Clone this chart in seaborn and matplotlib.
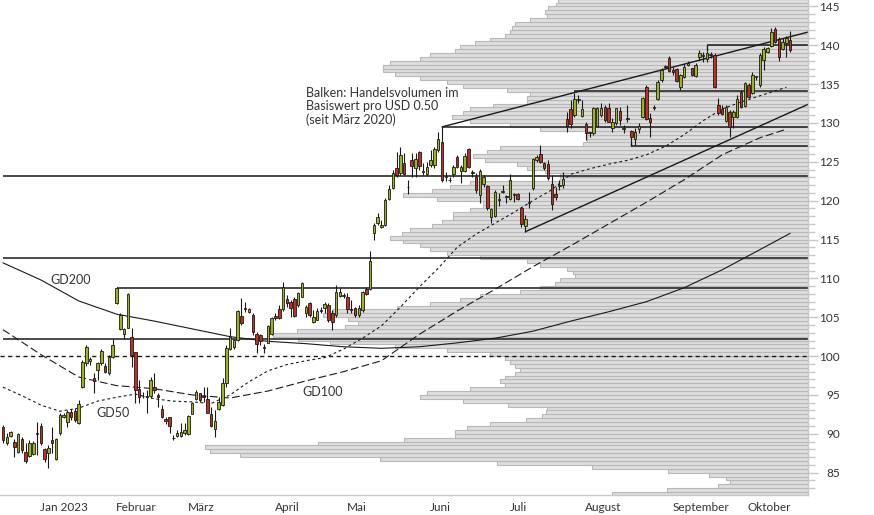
import numpy as np
import pandas as pd
import matplotlib
matplotlib.use("Agg")
import matplotlib.pyplot as plt
import matplotlib.transforms as mtransforms
import seaborn as sns

# ---- daily candles (trading day index 0..208, Dec 2022 - Oct 2023) ----
opens = [90.9, 88.8, 89.7, 89.0, 87.7, 89.3, 87.7, 87.1, 87.4, 90.0,
         91.0, 88.0, 87.5, 89.2, 86.8, 90.1, 92.2, 91.5, 92.8, 92.9,
         91.4, 96.0, 99.1, 99.4, 97.2, 98.2, 99.1, 98.7, 97.8, 99.9,
         106.8, 103.5, 102.8, 103.6, 102.5, 100.5, 95.7, 94.9, 94.7, 94.8,
         96.0, 95.0, 93.2, 91.9, 92.2, 89.5, 89.7, 89.7, 90.1, 90.0,
         92.6, 94.5, 95.3, 94.8, 94.5, 92.6, 90.6, 93.2, 93.7, 96.5,
         100.9, 101.2, 102.1, 105.2, 106.2, 105.7, 105.3, 102.9, 102.7, 101.2,
         101.7, 102.9, 105.2, 106.0, 106.0, 107.3, 106.9, 107.3, 106.6, 107.6,
         105.5, 106.8, 104.4, 104.7, 105.8, 106.2, 106.6, 105.5, 105.3, 107.7,
         107.7, 107.6, 106.0, 106.2, 105.3, 105.9, 108.6, 108.6, 115.8, 117.1,
         116.6, 116.9, 120.2, 121.6, 124.2, 123.6, 124.9, 121.8, 125.2, 124.2,
         126.3, 123.7, 123.4, 124.6, 124.6, 126.5, 127.5, 123.1, 122.7, 123.4,
         125.6, 123.8, 123.8, 126.6, 123.7, 123.1, 120.7, 122.2, 121.9, 117.9,
         118.0, 120.1, 121.1, 120.5, 120.2, 120.7, 120.9, 119.1, 116.7, 119.7,
         121.6, 125.2, 126.0, 124.9, 124.7, 122.2, 120.9, 121.9, 122.0, 130.5,
         131.8, 131.0, 133.0, 130.9, 129.9, 128.8, 128.7, 129.6, 131.0, 132.1,
         131.9, 129.4, 130.0, 131.5, 129.2, 130.5, 129.0, 128.0, 129.2, 130.8,
         134.6, 130.6, 131.9, 133.1, 135.5, 137.2, 138.4, 136.8, 137.0, 134.6,
         135.9, 137.5, 137.1, 136.1, 138.5, 138.6, 138.2, 138.7, 138.8, 132.3,
         131.8, 130.3, 131.4, 130.8, 130.8, 134.0, 132.2, 134.9, 133.9, 135.9,
         134.9, 138.1, 139.1, 139.9, 142.1, 140.8, 139.5, 140.3, 140.7]
highs = [91.1, 90.1, 90.4, 89.3, 90.1, 89.6, 88.8, 89.2, 89.1, 91.5,
         91.4, 88.2, 88.6, 90.9, 89.5, 92.7, 92.7, 93.1, 93.2, 93.3,
         94.4, 99.5, 101.4, 99.9, 97.8, 99.2, 100.9, 99.1, 100.1, 102.2,
         108.9, 105.5, 103.6, 108.1, 103.6, 100.5, 96.9, 95.4, 95.6, 97.3,
         97.8, 95.3, 93.7, 92.2, 92.2, 89.8, 90.5, 91.4, 91.4, 92.4,
         94.1, 95.6, 95.3, 96.0, 96.0, 93.4, 93.1, 94.7, 97.2, 101.4,
         103.6, 102.2, 105.9, 107.5, 107.0, 106.2, 105.6, 103.1, 102.8, 101.5,
         104.0, 105.0, 105.6, 106.6, 109.5, 107.9, 107.2, 107.6, 108.2, 109.5,
         106.6, 107.0, 105.9, 106.2, 106.3, 107.0, 106.8, 105.9, 109.2, 108.8,
         108.1, 108.1, 107.2, 106.3, 106.6, 108.4, 108.9, 113.5, 117.1, 118.4,
         117.5, 120.4, 122.0, 124.0, 126.3, 126.9, 126.1, 122.7, 126.1, 126.1,
         126.4, 124.9, 125.0, 126.5, 126.9, 128.8, 129.5, 123.7, 123.0, 124.6,
         125.9, 124.6, 126.1, 126.8, 124.0, 123.6, 124.1, 123.3, 122.0, 119.1,
         121.4, 121.0, 122.0, 120.7, 123.4, 121.0, 121.0, 119.2, 118.2, 121.1,
         125.5, 125.9, 127.2, 125.0, 125.2, 123.3, 121.8, 122.7, 123.7, 131.4,
         133.0, 133.9, 133.6, 133.0, 130.1, 128.8, 132.1, 132.1, 132.6, 132.3,
         132.6, 130.6, 131.9, 132.1, 129.7, 132.3, 129.1, 129.4, 130.0, 133.3,
         134.9, 131.3, 132.3, 135.5, 137.1, 137.5, 138.6, 137.2, 137.1, 136.3,
         137.6, 138.0, 137.1, 137.7, 139.4, 139.1, 139.3, 139.1, 139.0, 133.2,
         132.3, 132.3, 131.7, 131.7, 133.6, 134.2, 135.3, 135.1, 136.6, 135.9,
         139.0, 139.8, 139.8, 142.2, 142.4, 141.1, 140.9, 141.2, 141.8]
lows = [88.8, 88.6, 89.6, 87.0, 87.5, 87.5, 86.2, 87.0, 87.3, 87.3,
        88.6, 86.4, 85.6, 87.5, 86.6, 89.8, 92.0, 90.9, 91.8, 91.5,
        91.3, 95.9, 98.7, 98.9, 95.3, 96.9, 98.8, 97.8, 97.6, 99.8,
        106.7, 103.4, 102.2, 103.6, 98.6, 94.0, 94.0, 94.6, 92.7, 94.6,
        95.3, 93.5, 92.0, 91.3, 90.1, 89.2, 89.6, 89.6, 89.8, 89.8,
        92.6, 94.4, 94.1, 94.1, 92.7, 90.9, 89.6, 93.1, 93.6, 96.0,
        100.8, 100.9, 101.9, 104.0, 105.7, 105.6, 102.7, 100.4, 101.4, 100.4,
        101.7, 102.7, 104.6, 104.8, 105.8, 106.3, 105.0, 105.0, 106.3, 107.6,
        105.0, 105.0, 104.2, 104.6, 105.5, 105.5, 104.4, 103.3, 105.0, 107.6,
        107.5, 105.6, 105.6, 105.0, 105.0, 105.7, 107.9, 108.5, 114.9, 116.9,
        116.5, 116.7, 120.1, 121.5, 123.0, 123.3, 123.3, 120.9, 123.1, 123.1,
        124.0, 123.3, 123.2, 124.3, 124.2, 126.3, 122.4, 122.5, 122.4, 123.1,
        124.2, 122.3, 123.7, 124.2, 123.1, 121.0, 119.7, 121.8, 118.8, 117.1,
        117.9, 119.3, 121.0, 119.7, 120.1, 119.8, 120.1, 116.6, 116.0, 119.1,
        121.4, 125.0, 124.9, 123.9, 122.7, 118.8, 120.1, 121.4, 121.6, 128.8,
        129.4, 130.8, 132.6, 130.8, 127.8, 128.2, 128.5, 129.5, 130.8, 130.1,
        130.1, 128.8, 129.7, 129.7, 128.7, 130.1, 127.1, 127.2, 128.7, 130.6,
        130.4, 128.2, 131.7, 133.0, 135.3, 137.1, 136.6, 136.2, 135.3, 134.2,
        135.8, 137.3, 136.0, 135.9, 138.1, 137.8, 137.8, 138.4, 134.5, 131.0,
        131.0, 130.1, 128.2, 129.4, 130.6, 131.9, 132.1, 133.2, 133.7, 135.5,
        134.6, 136.8, 139.0, 139.8, 140.3, 138.0, 139.4, 138.5, 139.1]
closes = [89.2, 89.6, 90.2, 88.3, 90.0, 87.9, 86.5, 88.8, 88.8, 90.1,
          88.8, 86.8, 88.2, 88.8, 89.3, 92.4, 92.4, 92.8, 92.2, 91.8,
          93.8, 99.2, 101.2, 99.6, 96.8, 99.1, 100.6, 97.9, 99.9, 101.4,
          108.8, 105.3, 103.5, 108.0, 100.1, 95.6, 94.7, 94.8, 94.9, 96.9,
          95.6, 94.7, 92.2, 91.7, 91.0, 89.4, 90.1, 90.2, 90.5, 92.3,
          93.9, 95.4, 94.4, 94.7, 92.7, 91.0, 91.7, 94.1, 96.5, 101.0,
          102.4, 102.1, 105.8, 104.3, 106.1, 106.1, 103.1, 101.6, 101.9, 101.1,
          103.9, 104.9, 104.9, 104.9, 108.9, 106.8, 106.2, 105.2, 108.1, 109.4,
          106.3, 105.3, 105.0, 105.8, 105.9, 106.7, 104.6, 104.4, 108.2, 108.2,
          107.7, 106.1, 105.9, 105.3, 106.2, 108.2, 108.0, 112.2, 116.9, 117.9,
          116.9, 120.1, 121.5, 123.6, 123.3, 125.9, 123.4, 121.7, 124.5, 125.4,
          124.5, 123.7, 124.3, 125.2, 126.6, 127.9, 122.7, 123.2, 122.6, 124.3,
          124.3, 124.3, 125.7, 124.3, 123.6, 121.4, 123.8, 123.1, 119.1, 118.9,
          121.1, 120.1, 121.2, 120.6, 122.7, 120.8, 120.2, 117.0, 117.6, 119.8,
          125.4, 125.6, 125.0, 124.2, 122.9, 119.6, 120.5, 121.9, 122.8, 129.6,
          129.9, 133.1, 133.1, 131.8, 128.7, 128.7, 131.9, 131.9, 131.9, 130.4,
          130.1, 130.1, 131.9, 130.4, 129.2, 130.5, 128.2, 128.9, 129.6, 133.2,
          130.5, 130.1, 131.9, 135.3, 136.8, 137.2, 136.7, 136.6, 135.4, 136.2,
          137.2, 137.7, 136.2, 137.5, 139.0, 138.8, 139.0, 138.8, 134.6, 131.3,
          131.2, 132.1, 129.5, 131.4, 133.1, 132.1, 135.1, 133.4, 136.2, 135.9,
          138.7, 139.5, 139.6, 141.7, 140.4, 138.5, 140.4, 140.9, 139.4]

gd200_idx = [0, 10, 20, 30, 40, 50, 60, 70, 80, 90, 100, 110, 120, 130, 140, 150, 160, 170, 180, 190, 200, 208]
gd200_val = [112.0, 109.8, 107.1, 105.4, 104.5, 103.5, 102.5, 101.9, 101.6, 101.2, 101.0, 101.2, 101.7, 102.3,
             103.2, 104.5, 105.7, 107.0, 108.8, 111.1, 113.7, 115.8]
gd100_idx = [0, 10, 20, 30, 40, 50, 60, 70, 80, 90, 100, 105, 110, 120, 130, 140, 150, 160, 170, 180, 190, 200, 207]
gd100_val = [103.4, 100.2, 97.3, 96.2, 95.8, 95.0, 94.6, 95.5, 96.8, 98.0, 99.4, 101.1, 102.8, 105.8, 108.6,
             111.5, 114.2, 117.0, 119.8, 122.7, 125.9, 128.1, 129.2]
gd50_idx = [0, 5, 10, 15, 20, 25, 30, 35, 40, 45, 50, 55, 60, 65, 70, 75, 80, 85, 90, 95, 100, 105, 110, 115,
            120, 125, 130, 135, 140, 145, 150, 155, 160, 165, 170, 175, 180, 185, 190, 195, 200, 207]
gd50_val = [96.0, 94.9, 93.7, 92.9, 93.3, 94.2, 94.7, 95.1, 94.5, 94.2, 94.1, 93.9, 95.0, 96.7, 98.1, 98.9,
            99.4, 99.8, 100.9, 102.3, 103.9, 106.3, 108.9, 111.3, 114.0, 115.7, 117.1, 118.5, 120.0, 121.4,
            123.4, 124.1, 124.7, 125.2, 125.9, 127.0, 128.5, 130.3, 131.8, 132.7, 133.5, 134.6]

# ---- volume profile: 0.50 USD bins (lower edge), relative volume ----
vol_bins = list(np.arange(82.0, 146.0, 0.5))
vol_profile = [196, 141, 90, 78, 82, 99, 140, 216, 311, 428, 568, 598, 603, 490, 404, 353, 353, 341, 318, 282,
               266, 262, 261, 300, 345, 388, 381, 338, 303, 308, 303, 293, 288, 293, 298, 303, 318, 361, 413, 478,
               510, 535, 511, 463, 450, 460, 485, 475, 411, 378, 348, 328, 288, 268, 253, 248, 233, 235, 241, 268,
               281, 328, 361, 378, 388, 405, 418, 406, 398, 376, 366, 355, 355, 338, 325, 325, 371, 405, 376, 358,
               338, 248, 248, 263, 281, 291, 323, 335, 321, 308, 225, 221, 221, 221, 268, 298, 338, 356, 345, 338,
               315, 281, 281, 278, 301, 345, 361, 388, 413, 425, 425, 418, 388, 378, 353, 348, 333, 318, 303, 298,
               296, 293, 278, 261, 263, 260, 252, 250]

# ---- support / resistance levels and trend lines ----
level_price = [140.0, 134.1, 129.5, 127.0, 123.2, 112.6, 108.8, 102.2]
level_start = [186, 151, 116, 166, 0, 0, 30, 0]
trend_upper = ([116, 212.7], [129.5, 141.7])
trend_lower = ([138, 212.7], [116.0, 132.4])

month_idx = [9, 29, 48, 71, 90, 112, 133, 153, 176, 196]
month_lbl = ["Jan 2023", "Februar", "März", "April", "Mai", "Juni", "Juli", "August", "September", "Oktober"]

GREEN = "#9fb31c"
RED = "#bf2f24"
GRID = "#c8c8c8"
TXT = "#333333"
XMIN, XMAX = -0.79, 212.7
YMIN, YMAX = 82.12, 145.83
VOL_MAX = 808

sns.set_theme(style="white")
plt.rcParams['font.family'] = ['Lato', 'DejaVu Sans']

fig = plt.figure(figsize=(8.74, 5.15), dpi=100)
rect = [0, 20 / 515, 808 / 874, 495 / 515]
ax_vol = fig.add_axes(rect)
ax = fig.add_axes(rect)
ax.set_facecolor("none")

# volume profile from the right edge
ax_vol.barh(np.array(vol_bins) + 0.25, vol_profile, height=0.5, color="#dedede",
            edgecolor="#b8b8b8", linewidth=0.8)
ax_vol.set_xlim(VOL_MAX, 0)
ax_vol.set_ylim(YMIN, YMAX)
ax_vol.axis("off")

df = pd.DataFrame({"open": opens, "high": highs, "low": lows, "close": closes})
df["i"] = np.arange(len(df))
up = df["close"] >= df["open"]

# levels
for p, s in zip(level_price, level_start):
    ax.hlines(p, s, XMAX, color="#1a1a1a", lw=1.1, zorder=2)
ax.vlines([186, 166], [139.3, 127.0], [140.0, 127.4], color="#1a1a1a", lw=1.0, zorder=2)
ax.hlines(100, XMIN, XMAX, color="#1a1a1a", lw=1.0, linestyles=(0, (3, 2.5)), zorder=2)
ax.plot(*trend_upper, color="#1a1a1a", lw=1.0, zorder=2)
ax.plot(*trend_lower, color="#1a1a1a", lw=1.0, zorder=2)

# moving averages
ax.plot(gd200_idx, gd200_val, color="#1a1a1a", lw=0.8, zorder=3)
ax.plot(gd100_idx, gd100_val, color="#1a1a1a", lw=0.8, ls=(0, (7, 3)), zorder=3)
ax.plot(gd50_idx, gd50_val, color="#1a1a1a", lw=0.8, ls=(0, (2.5, 2.5)), zorder=3)

# candles
ax.vlines(df["i"], df["low"], df["high"], color="#1a1a1a", lw=0.8, zorder=4)
body = (df["close"] - df["open"]).abs().clip(lower=0.12)
ax.bar(df["i"], body, bottom=np.minimum(df["open"], df["close"]), width=0.66,
       color=np.where(up, GREEN, RED), edgecolor="#1a1a1a", linewidth=0.6, zorder=5)

ax.text(12.4, 109.8, "GD200", fontsize=9, color=TXT, va="center", ha="left")
ax.text(24.6, 92.7, "GD50", fontsize=9, color=TXT, va="center", ha="left")
ax.text(79.0, 95.4, "GD100", fontsize=9, color=TXT, va="center", ha="left")
ax.text(80.1, 134.6, "Balken: Handelsvolumen im\nBasiswert pro USD 0.50\n(seit März 2020)",
        fontsize=9, color=TXT, va="top", ha="left", linespacing=1.1)

ax.set_xlim(XMIN, XMAX)
ax.set_ylim(YMIN, YMAX)
for side in ["left", "top"]:
    ax.spines[side].set_visible(False)
for side in ["right", "bottom"]:
    ax.spines[side].set_color(GRID)
    ax.spines[side].set_linewidth(1)

ax.yaxis.tick_right()
ax.set_yticks(range(85, 146, 5))
ax.set_yticks(range(83, 146), minor=True)
ax.tick_params(axis="y", which="major", length=7, width=1, color=GRID, pad=16,
               labelsize=8.5, labelcolor=TXT)
ax.tick_params(axis="y", which="minor", length=5, width=1, color=GRID)
for lab in ax.get_yticklabels():
    lab.set_horizontalalignment("right")

ax.set_xticks(month_idx + [XMAX])
ax.set_xticklabels([])
ax.tick_params(axis="x", which="major", length=20, width=1, color=GRID, direction="out")
trans = mtransforms.blended_transform_factory(ax.transData, ax.transAxes)
for xi, lbl in zip(month_idx, month_lbl):
    ax.text(xi + 0.8, -0.025, lbl, transform=trans, fontsize=8.5, color=TXT, va="center", ha="left")

fig.savefig("out.png", dpi=100)
